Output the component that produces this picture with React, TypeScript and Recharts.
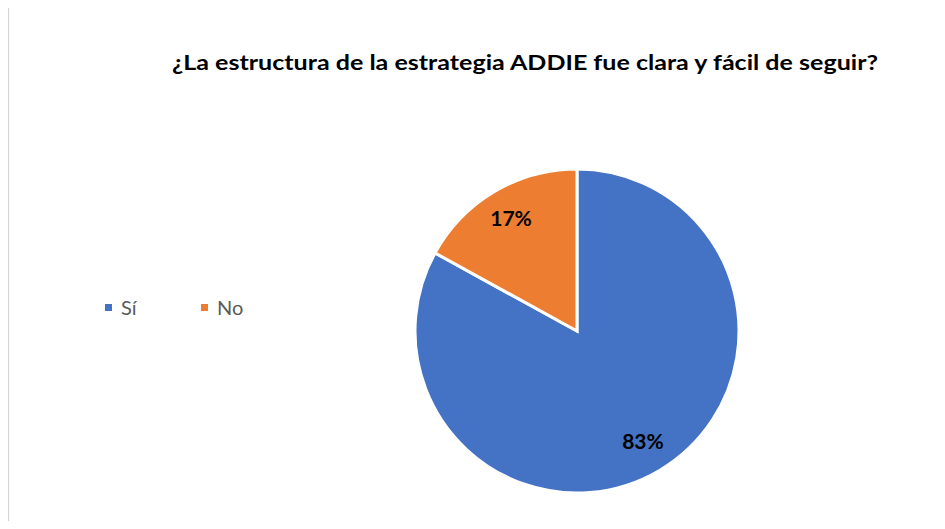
import React from "react";
import { PieChart, Pie, Cell } from "recharts";

const categories = ["Sí", "No"];
const values = [83, 17];
const colors = ["#4472C4", "#ED7D31"];
const title = "¿La estructura de la estrategia ADDIE fue clara y fácil de seguir?";
const caption = "Figura 11  Representación gráfica de la pregunta 11 – Gato abcd";

const data = categories.map((name, i) => ({ name, value: values[i] }));
const total = values.reduce((a, b) => a + b, 0);

const RAD = Math.PI / 180;

const renderLabel = (props: any) => {
  const { cx, cy, midAngle, outerRadius, value } = props;
  const r = outerRadius * 0.8;
  const x = cx + r * Math.cos(-midAngle * RAD);
  const y = cy + r * Math.sin(-midAngle * RAD) - 2;
  return (
    <text
      x={x}
      y={y}
      textAnchor="middle"
      dominantBaseline="central"
      fontFamily="Lato, 'Open Sans', sans-serif"
      fontWeight={700}
      fontSize={21}
      fill="#000"
    >
      {`${Math.round((value / total) * 100)}%`}
    </text>
  );
};

export default function App() {
  return (
    <div
      style={{
        position: "relative",
        width: 945,
        height: 529,
        margin: -8,
        overflow: "hidden",
        background: "#fff",
      }}
    >
      <div style={{ position: "absolute", left: 0, top: 0 }}>
        <PieChart width={945} height={529} margin={{ top: 0, right: 0, bottom: 0, left: 0 }}>
          <text
            x={-2}
            y={5}
            fontFamily="Lato, sans-serif"
            fontSize={22}
            fill="#000"
          >
            {caption}
          </text>
          <rect
            x={8.5}
            y={6.5}
            width={960}
            height={540}
            fill="#fff"
            stroke="#d4d4d4"
            strokeWidth={1.2}
          />
          <text
            x={525}
            y={70}
            textAnchor="middle"
            fontFamily="Lato, 'Open Sans', sans-serif"
            fontWeight={700}
            fontSize={20}
            textLength={706}
            lengthAdjust="spacingAndGlyphs"
            fill="#000"
          >
            {title}
          </text>
          <Pie
            data={data}
            dataKey="value"
            nameKey="name"
            cx={577}
            cy={331}
            outerRadius={162}
            startAngle={90}
            endAngle={-270}
            stroke="#fff"
            strokeWidth={3}
            label={renderLabel}
            labelLine={false}
            isAnimationActive={false}
          >
            {data.map((d, i) => (
              <Cell key={d.name} fill={colors[i]} />
            ))}
          </Pie>
        </PieChart>
      </div>
      <div
        style={{
          position: "absolute",
          left: 105,
          top: 295,
          display: "flex",
          alignItems: "center",
        }}
      >
        {data.map((d, i) => (
          <div key={d.name} style={{ display: "flex", alignItems: "center", width: 96 }}>
            <span
              style={{
                display: "inline-block",
                width: 7,
                height: 7,
                background: colors[i],
                marginRight: 9,
              }}
            />
            <span
              style={{
                fontFamily: "Lato, 'Open Sans', sans-serif",
                fontSize: 20,
                color: "#595959",
              }}
            >
              {d.name}
            </span>
          </div>
        ))}
      </div>
    </div>
  );
}
